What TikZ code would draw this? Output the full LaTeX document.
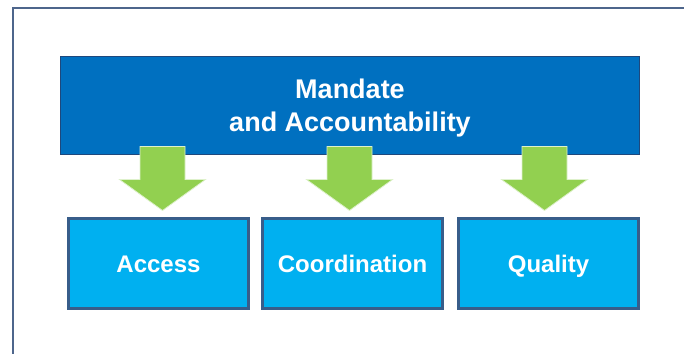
\documentclass[tikz,border=0pt]{standalone}
\usepackage{fontspec}
\setmainfont{Liberation Sans}
\usetikzlibrary{positioning,calc}

\definecolor{framegray}{RGB}{78,102,140}
\definecolor{mandblue}{RGB}{0,112,192}
\definecolor{mandline}{RGB}{30,72,125}
\definecolor{areablue}{RGB}{0,176,240}
\definecolor{arealine}{RGB}{56,93,138}
\definecolor{pushgreen}{RGB}{146,208,80}

\tikzset{
  mandbox/.style={draw=mandline, fill=mandblue, line width=1pt, outer sep=0pt,
    minimum width=579pt, minimum height=98pt, align=center, text=white,
    text depth=0pt, font=\bfseries\fontsize{27}{33}\selectfont},
  areabox/.style={draw=arealine, fill=areablue, line width=2.5pt, outer sep=0pt,
    minimum width=180pt, minimum height=90pt, text=white,
    text height=22pt, text depth=4pt, font=\bfseries\fontsize{24}{28}\selectfont},
  pusharrow/.style={fill=pushgreen, draw=white!70!pushgreen, line width=0.8pt}
}

\begin{document}
\begin{tikzpicture}[x=1pt,y=-1pt]
  \useasboundingbox (0,0) rectangle (684,353);
  \clip (0,0) rectangle (684,353);
  % outer frame, runs off the right and bottom edges
  \draw[framegray, line width=2pt] (12.5,8.5) rectangle (700,370);

  \node[mandbox] (mandate) at (350,105.5) {Mandate\\and Accountability};

  \node[areabox, anchor=north west] (access) at ($(mandate.south west)+(8,64)$) {Access};
  \node[areabox] (coord)   [right=14pt of access] {Coordination};
  \node[areabox] (quality) [right=16pt of coord]  {Quality};

  % block arrows from the mandate down to each area
  \foreach \b/\dx in {access/4, coord/-3, quality/-4} {
    \path[pusharrow]
      ($(\b.north)+(\dx,-8)$) -- ++(-43,-31) -- ++(20.5,0) -- ++(0,-33)
        -- ++(45,0) -- ++(0,33) -- ++(20.5,0) -- cycle;
  }
\end{tikzpicture}
\end{document}
